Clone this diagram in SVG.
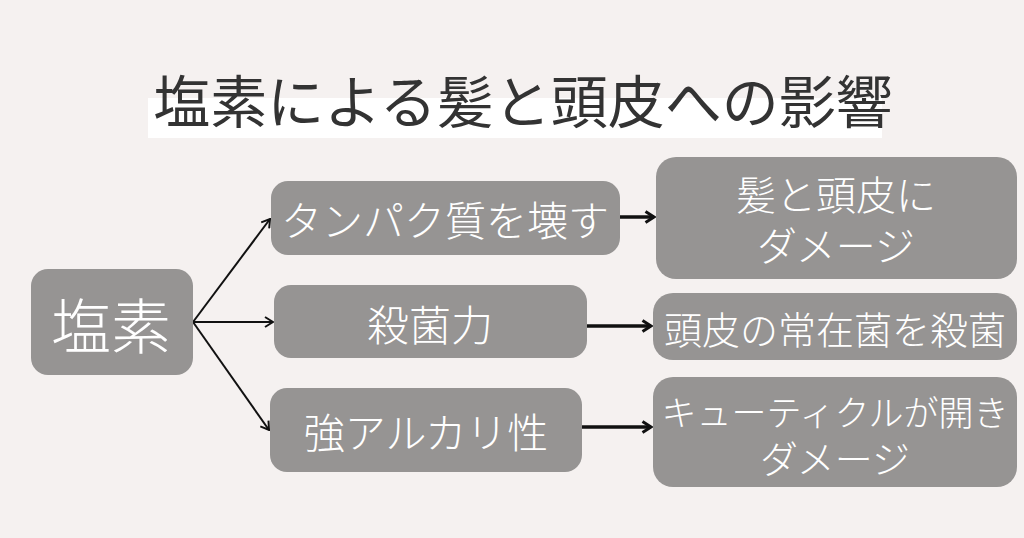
<svg xmlns="http://www.w3.org/2000/svg" width="1024" height="538" viewBox="0 0 1024 538">
<defs>
<style>
.box{fill:#969493;}
.t{font-family:"Noto Sans CJK JP","Noto Sans CJK SC",sans-serif;font-weight:300;fill:#ffffff;text-anchor:middle;dominant-baseline:central;}
.title{font-family:"Noto Sans CJK JP","Noto Sans CJK SC",sans-serif;font-weight:400;fill:#333333;text-anchor:middle;dominant-baseline:central;font-size:57px;}
.thin{stroke:#111;stroke-width:2;fill:none;}
.thick{stroke:#111;stroke-width:3.5;fill:none;}
</style>
<marker id="ah" viewBox="0 0 10 12" refX="9" refY="6" markerWidth="10" markerHeight="12" markerUnits="userSpaceOnUse" orient="auto">
<path d="M1,1 L9,6 L1,11" fill="none" stroke="#111" stroke-width="2"/>
</marker>
<marker id="ah2" viewBox="0 0 12 14" refX="10" refY="7" markerWidth="12" markerHeight="14" markerUnits="userSpaceOnUse" orient="auto">
<path d="M1.5,1.5 L10,7 L1.5,12.5" fill="none" stroke="#111" stroke-width="3"/>
</marker>
</defs>
<rect width="1024" height="538" fill="#f5f1f0"/>
<g id="title">
<rect x="148" y="98" width="734" height="40" fill="#ffffff"/>
<text class="title" x="523" y="98">塩素による髪と頭皮への影響</text>
</g>
<g id="connectors">
<path class="thin" d="M193,322 L270,219" marker-end="url(#ah)"/>
<path class="thin" d="M193,322 L273,322" marker-end="url(#ah)"/>
<path class="thin" d="M193,322 L269,430" marker-end="url(#ah)"/>
<path class="thick" d="M620,217 L654,217" marker-end="url(#ah2)"/>
<path class="thick" d="M587,326 L651,326" marker-end="url(#ah2)"/>
<path class="thick" d="M582,427 L651,427" marker-end="url(#ah2)"/>
</g>
<g id="chlorine">
<rect class="box" x="31" y="269" width="162" height="106" rx="17"/>
<text class="t" x="111" y="322" font-size="60">塩素</text>
</g>
<g id="protein">
<rect class="box" x="271" y="181" width="349" height="74" rx="17"/>
<text class="t" x="445" y="218" font-size="41">タンパク質を壊す</text>
</g>
<g id="sterilize">
<rect class="box" x="274" y="285" width="313" height="73" rx="17"/>
<text class="t" x="430" y="322" font-size="42">殺菌力</text>
</g>
<g id="alkali">
<rect class="box" x="270" y="388" width="312" height="84" rx="17"/>
<text class="t" x="426" y="430" font-size="41">強アルカリ性</text>
</g>
<g id="damage1">
<rect class="box" x="656" y="157" width="361" height="122" rx="20"/>
<text class="t" font-size="40"><tspan x="836" y="193">髪と頭皮に</tspan><tspan x="836" y="244">ダメージ</tspan></text>
</g>
<g id="bacteria">
<rect class="box" x="653" y="293" width="364" height="67" rx="20"/>
<text class="t" x="835" y="327" font-size="38">頭皮の常在菌を殺菌</text>
</g>
<g id="cuticle">
<rect class="box" x="653" y="377" width="364" height="110" rx="20"/>
<text class="t"><tspan x="835" y="410" font-size="35">キューティクルが開き</tspan><tspan x="835" y="456" font-size="38">ダメージ</tspan></text>
</g>
</svg>
